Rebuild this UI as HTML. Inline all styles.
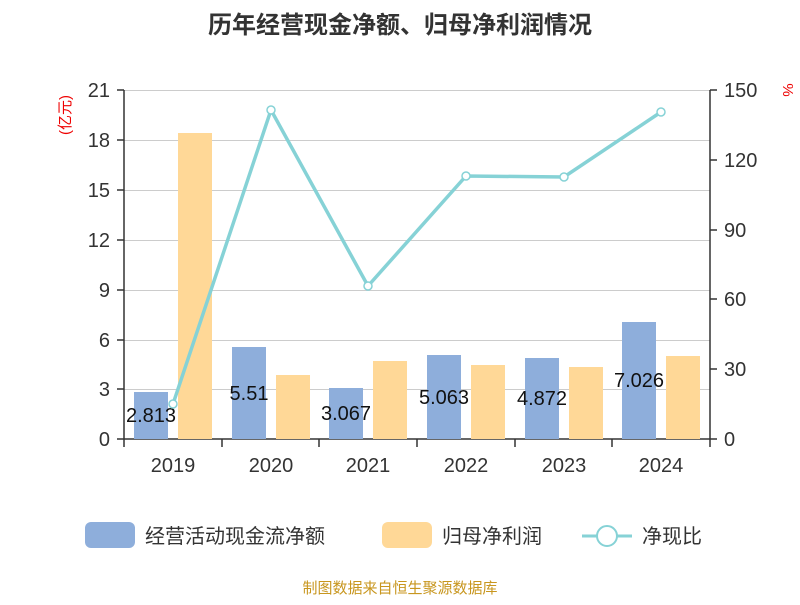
<!DOCTYPE html>
<html><head><meta charset="utf-8"><style>
body{margin:0;background:#fff;font-family:"Liberation Sans","Noto Sans CJK SC",sans-serif}
</style></head><body>
<svg width="800" height="600" xmlns="http://www.w3.org/2000/svg" font-family="Liberation Sans, Noto Sans CJK SC, sans-serif">
<rect width="800" height="600" fill="#fff"/>
<text x="400" y="33" text-anchor="middle" font-size="24" font-weight="bold" fill="#333">历年经营现金净额、归母净利润情况</text>
<g stroke="#ccc" stroke-width="1">
<line x1="124" x2="710" y1="90.5" y2="90.5"/><line x1="124" x2="710" y1="140.5" y2="140.5"/>
<line x1="124" x2="710" y1="190.5" y2="190.5"/><line x1="124" x2="710" y1="240.5" y2="240.5"/>
<line x1="124" x2="710" y1="290.5" y2="290.5"/><line x1="124" x2="710" y1="340.5" y2="340.5"/>
<line x1="124" x2="710" y1="389.5" y2="389.5"/>
</g>
<g stroke="#333" stroke-width="1.5">
<line x1="124" x2="124" y1="90" y2="439"/><line x1="710" x2="710" y1="90" y2="439"/>
<line x1="124" x2="710" y1="439" y2="439"/>
<line x1="117" x2="124" y1="90" y2="90"/><line x1="117" x2="124" y1="140" y2="140"/><line x1="117" x2="124" y1="190" y2="190"/><line x1="117" x2="124" y1="240" y2="240"/><line x1="117" x2="124" y1="290" y2="290"/><line x1="117" x2="124" y1="340" y2="340"/><line x1="117" x2="124" y1="389" y2="389"/><line x1="117" x2="124" y1="439" y2="439"/>
<line x1="710" x2="717" y1="90" y2="90"/><line x1="710" x2="717" y1="160" y2="160"/><line x1="710" x2="717" y1="230" y2="230"/><line x1="710" x2="717" y1="299" y2="299"/><line x1="710" x2="717" y1="369" y2="369"/><line x1="710" x2="717" y1="439" y2="439"/>
<line x1="124" x2="124" y1="439" y2="447"/><line x1="222" x2="222" y1="439" y2="447"/><line x1="319" x2="319" y1="439" y2="447"/><line x1="417" x2="417" y1="439" y2="447"/><line x1="515" x2="515" y1="439" y2="447"/><line x1="612" x2="612" y1="439" y2="447"/><line x1="710" x2="710" y1="439" y2="447"/>
</g>
<g font-size="20" fill="#333" text-anchor="end">
<text x="110" y="97">21</text><text x="110" y="147">18</text><text x="110" y="197">15</text><text x="110" y="247">12</text><text x="110" y="297">9</text><text x="110" y="347">6</text><text x="110" y="396">3</text><text x="110" y="446">0</text>
</g>
<g font-size="20" fill="#333" text-anchor="start">
<text x="724" y="97">150</text><text x="724" y="167">120</text><text x="724" y="237">90</text><text x="724" y="306">60</text><text x="724" y="376">30</text><text x="724" y="446">0</text>
</g>
<text transform="translate(70,115) rotate(-90)" font-size="15" fill="#e00" text-anchor="middle">(亿元)</text>
<text transform="translate(783,90) rotate(90)" font-size="15" fill="#e00" text-anchor="middle">%</text>
<g font-size="20" fill="#333" text-anchor="middle">
<text x="173" y="472">2019</text><text x="271" y="472">2020</text><text x="368" y="472">2021</text><text x="466" y="472">2022</text><text x="564" y="472">2023</text><text x="661" y="472">2024</text>
</g>
<g fill="#8eaedb">
<rect x="134" y="392" width="34" height="47"/><rect x="232" y="347" width="34" height="92"/><rect x="329" y="388" width="34" height="51"/><rect x="427" y="355" width="34" height="84"/><rect x="525" y="358" width="34" height="81"/><rect x="622" y="322" width="34" height="117"/>
</g>
<g fill="#ffd897">
<rect x="178" y="133" width="34" height="306"/><rect x="276" y="375" width="34" height="64"/><rect x="373" y="361" width="34" height="78"/><rect x="471" y="365" width="34" height="74"/><rect x="569" y="367" width="34" height="72"/><rect x="666" y="356" width="34" height="83"/>
</g>
<g font-size="20" fill="#111" text-anchor="middle">
<text x="151" y="422">2.813</text><text x="249" y="400">5.51</text><text x="346" y="420">3.067</text><text x="444" y="404">5.063</text><text x="542" y="405">4.872</text><text x="639" y="387">7.026</text>
</g>
<polyline points="173,404 271,110 368,286 466,176 564,177 661,112" fill="none" stroke="#86d2d6" stroke-width="3.5"/>
<g fill="#fff" stroke="#86d2d6" stroke-width="1.5">
<circle cx="173" cy="404" r="4"/><circle cx="271" cy="110" r="4"/><circle cx="368" cy="286" r="4"/><circle cx="466" cy="176" r="4"/><circle cx="564" cy="177" r="4"/><circle cx="661" cy="112" r="4"/>
</g>
<rect x="85" y="522" width="50" height="26" rx="6" fill="#8eaedb"/>
<text x="145" y="543" font-size="20" fill="#333">经营活动现金流净额</text>
<rect x="382" y="522" width="50" height="26" rx="6" fill="#ffd897"/>
<text x="442" y="543" font-size="20" fill="#333">归母净利润</text>
<line x1="582" x2="632" y1="536" y2="536" stroke="#86d2d6" stroke-width="3"/>
<circle cx="607" cy="536" r="10" fill="#fff" stroke="#86d2d6" stroke-width="2"/>
<text x="642" y="543" font-size="20" fill="#333">净现比</text>
<text x="400" y="593" font-size="15" fill="#c8961e" text-anchor="middle">制图数据来自恒生聚源数据库</text>
</svg>
</body></html>
